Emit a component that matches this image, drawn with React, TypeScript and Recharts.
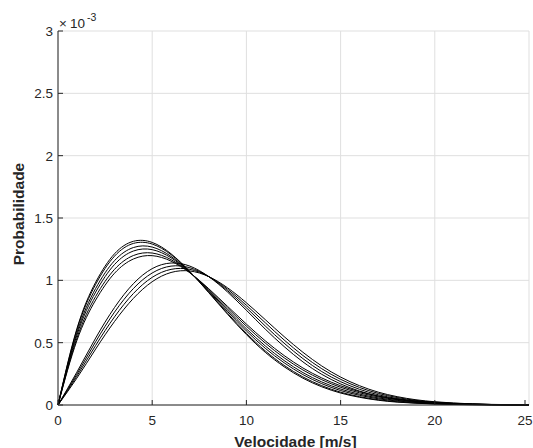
import React from "react";
import {
  LineChart,
  Line,
  XAxis,
  YAxis,
  CartesianGrid,
} from "recharts";

// wind speed samples [m/s]
const velocity = [
  0, 1, 2, 3, 4, 5, 6, 7, 8, 9, 10, 11, 12, 13, 14, 15, 16, 17, 18, 19, 20,
  21, 22, 23, 24, 25,
];

// probability values, in units of 1e-3
const curve1 = [
  0, 0.611, 0.985, 1.213, 1.313, 1.304, 1.213, 1.07, 0.901, 0.728, 0.565,
  0.423, 0.307, 0.215, 0.146, 0.096, 0.062, 0.038, 0.023, 0.014, 0.008, 0.004,
  0.002, 0.001, 0.001, 0.0,
];
const curve2 = [
  0, 0.6, 0.968, 1.194, 1.296, 1.291, 1.206, 1.069, 0.905, 0.736, 0.575,
  0.434, 0.318, 0.225, 0.155, 0.103, 0.067, 0.042, 0.026, 0.016, 0.009, 0.005,
  0.003, 0.001, 0.001, 0.0,
];
const curve3 = [
  0, 0.578, 0.935, 1.158, 1.263, 1.267, 1.192, 1.067, 0.912, 0.75, 0.594,
  0.455, 0.339, 0.244, 0.171, 0.116, 0.078, 0.05, 0.032, 0.02, 0.012, 0.007,
  0.004, 0.002, 0.001, 0.0,
];
const curve4 = [
  0, 0.559, 0.906, 1.127, 1.235, 1.246, 1.181, 1.065, 0.919, 0.763, 0.611,
  0.474, 0.357, 0.26, 0.185, 0.128, 0.087, 0.057, 0.037, 0.023, 0.014, 0.008,
  0.005, 0.003, 0.001, 0.001,
];
const curve5 = [
  0, 0.535, 0.871, 1.088, 1.199, 1.219, 1.166, 1.062, 0.927, 0.778, 0.632,
  0.497, 0.379, 0.281, 0.203, 0.142, 0.098, 0.065, 0.043, 0.028, 0.017, 0.01,
  0.006, 0.003, 0.002, 0.001,
];
const curve6 = [
  0, 0.516, 0.842, 1.057, 1.171, 1.198, 1.154, 1.06, 0.933, 0.791, 0.649,
  0.515, 0.397, 0.297, 0.217, 0.154, 0.107, 0.072, 0.048, 0.031, 0.019, 0.012,
  0.007, 0.004, 0.002, 0.001,
];
const curve7 = [
  0, 0.263, 0.537, 0.782, 0.973, 1.094, 1.139, 1.114, 1.03, 0.906, 0.76,
  0.609, 0.469, 0.346, 0.246, 0.169, 0.112, 0.072, 0.045, 0.027, 0.016, 0.009,
  0.005, 0.003, 0.0015, 0.0008,
];
const curve8 = [
  0, 0.247, 0.508, 0.745, 0.934, 1.059, 1.114, 1.101, 1.03, 0.917, 0.78,
  0.634, 0.496, 0.372, 0.268, 0.187, 0.126, 0.082, 0.052, 0.032, 0.019, 0.011,
  0.006, 0.004, 0.002, 0.001,
];
const curve9 = [
  0, 0.231, 0.478, 0.707, 0.894, 1.024, 1.088, 1.088, 1.03, 0.929, 0.8, 0.66,
  0.522, 0.397, 0.291, 0.206, 0.141, 0.093, 0.06, 0.037, 0.023, 0.014, 0.008,
  0.004, 0.003, 0.0015,
];
const curve10 = [
  0, 0.215, 0.449, 0.67, 0.855, 0.989, 1.063, 1.075, 1.03, 0.94, 0.82, 0.685,
  0.549, 0.423, 0.313, 0.224, 0.155, 0.103, 0.067, 0.042, 0.026, 0.016, 0.009,
  0.005, 0.003, 0.0017,
];

const xTicks = [0, 5, 10, 15, 20, 25];
const yTicks = [0, 0.5, 1, 1.5, 2, 2.5, 3];

const curves = [
  curve1, curve2, curve3, curve4, curve5,
  curve6, curve7, curve8, curve9, curve10,
];

const data = velocity.map((v, i) => {
  const row: Record<string, number> = { v };
  curves.forEach((c, j) => {
    row[`c${j + 1}`] = c[i];
  });
  return row;
});

const FONT = "'Liberation Sans', Arial, Helvetica, sans-serif";
const INK = "#262626";
const TM = 5; // gap between axis and tick labels
const TICK_FS = 13.5;

// MATLAB style ticks point into the plot
const YTick = (props: any) => {
  const { x, y, payload } = props;
  const ax = x + TM;
  return (
    <g>
      <line x1={ax} x2={ax + 5} y1={y} y2={y} stroke={INK} />
      <text
        x={x}
        y={y + 5}
        textAnchor="end"
        fontFamily={FONT}
        fontSize={TICK_FS}
        fill={INK}
      >
        {payload.value}
      </text>
    </g>
  );
};

const XTick = (props: any) => {
  const { x, y, payload } = props;
  const ay = y - TM;
  return (
    <g>
      <line x1={x} x2={x} y1={ay} y2={ay - 5} stroke={INK} />
      <text
        x={x}
        y={ay + 20}
        textAnchor="middle"
        fontFamily={FONT}
        fontSize={TICK_FS}
        fill={INK}
      >
        {payload.value}
      </text>
    </g>
  );
};

export default function App() {
  return (
    <div style={{ position: "absolute", left: 0, top: 0, width: 533, height: 448 }}>
      <LineChart
        width={533}
        height={448}
        data={data}
        margin={{ top: 31, right: 4, left: 0, bottom: 0 }}
        style={{ background: "#fff" }}
      >
        <CartesianGrid stroke="#dfdfdf" strokeWidth={1} />
        <XAxis
          dataKey="v"
          type="number"
          domain={[0, 25]}
          ticks={xTicks}
          height={43}
          tickSize={0}
          tickMargin={TM}
          tick={<XTick />}
          stroke={INK}
          label={{
            content: () => (
              <text
                x={295.5}
                y={446.5}
                textAnchor="middle"
                fontFamily={FONT}
                fontSize={15.5}
                fontWeight="bold"
                fill={INK}
              >
                Velocidade [m/s]
              </text>
            ),
          }}
        />
        <YAxis
          type="number"
          domain={[0, 3]}
          ticks={yTicks}
          width={58}
          tickSize={0}
          tickMargin={TM}
          tick={<YTick />}
          stroke={INK}
          label={{
            content: () => (
              <text
                x={24}
                y={214}
                transform="rotate(-90 24 214)"
                textAnchor="middle"
                fontFamily={FONT}
                fontSize={15.5}
                fontWeight="bold"
                fill={INK}
              >
                Probabilidade
              </text>
            ),
          }}
        />
        {curves.map((_, j) => (
          <Line
            key={j}
            type="natural"
            dataKey={`c${j + 1}`}
            stroke="#000"
            strokeWidth={1}
            dot={false}
            activeDot={false}
            isAnimationActive={false}
          />
        ))}
      </LineChart>
      <svg
        width={120}
        height={30}
        style={{ position: "absolute", left: 0, top: 0 }}
      >
        <text x={59} y={28} fontFamily={FONT} fontSize={TICK_FS} fill={INK}>
          ×
        </text>
        <text x={70} y={28} fontFamily={FONT} fontSize={TICK_FS} fill={INK}>
          10
        </text>
        <text x={87} y={21} fontFamily={FONT} fontSize={10.5} fill={INK}>
          -3
        </text>
      </svg>
    </div>
  );
}
